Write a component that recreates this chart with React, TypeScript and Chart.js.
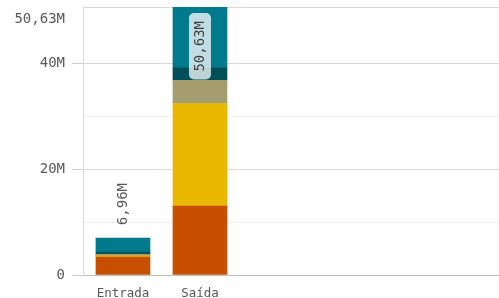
import React, { useEffect, useRef } from "react";
import { Chart, registerables } from "chart.js";

Chart.register(...registerables);

const categories = ["Entrada", "Saída"];
const seriesOrange = [3.4e6, 13.0e6];
const seriesYellow = [0.2e6, 19.4e6];
const seriesKhaki = [0.3e6, 4.4e6];
const seriesDarkTeal = [0.45e6, 2.4e6];
const seriesTeal = [2.61e6, 11.43e6];
const totals = [6.96e6, 50.63e6];
const totalLabels = ["6,96M", "50,63M"];
const yTickValues = [0, 10e6, 20e6, 30e6, 40e6, 50.63e6];
const yTickLabels = ["0", "", "20M", "", "40M", "50,63M"];
const yMajor = [true, false, true, false, true, false];

const colors = ["#c84f00", "#e9b700", "#a59d6e", "#00505a", "#007a8c"];

const dataLabelPlugin = {
  id: "totalsLabels",
  afterDatasetsDraw(chart: any) {
    const ctx = chart.ctx;
    const xs = chart.scales.x;
    const ys = chart.scales.y;
    ctx.save();
    ctx.font = "14px 'DejaVu Sans Mono'";
    totals.forEach((t, i) => {
      const x = xs.getPixelForValue(i);
      const yTop = ys.getPixelForValue(t);
      const label = totalLabels[i];
      const w = ctx.measureText(label).width;
      const barHeight = ys.getPixelForValue(0) - yTop;
      ctx.save();
      ctx.translate(x, 0);
      ctx.rotate(-Math.PI / 2);
      ctx.textBaseline = "middle";
      if (barHeight > w + 30) {
        const boxLen = w + 16;
        const boxW = 22;
        const startY = yTop + 6;
        const bx = -(startY + boxLen);
        ctx.fillStyle = "rgba(255,255,255,0.75)";
        ctx.beginPath();
        (ctx as any).roundRect(bx, -boxW / 2, boxLen, boxW, 5);
        ctx.fill();
        ctx.fillStyle = "#404040";
        ctx.textAlign = "center";
        ctx.fillText(label, bx + boxLen / 2, 0);
      } else {
        ctx.fillStyle = "#595959";
        ctx.textAlign = "left";
        ctx.fillText(label, -(yTop - 13), 0);
      }
      ctx.restore();
    });
    ctx.restore();
  },
};

export default function App() {
  const ref = useRef<HTMLCanvasElement>(null);
  useEffect(() => {
    if (!ref.current) return;
    const series = [seriesOrange, seriesYellow, seriesKhaki, seriesDarkTeal, seriesTeal];
    const lastIdx = yTickValues.length - 1;
    const chart = new Chart(ref.current, {
      type: "bar",
      data: {
        datasets: series.map((s, k) => ({
          label: "s" + k,
          data: s.map((v, i) => ({ x: i, y: v })),
          backgroundColor: colors[k],
          borderWidth: 0,
          barThickness: 54,
          grouped: false,
        })),
      },
      options: {
        animation: false,
        responsive: true,
        maintainAspectRatio: false,
        layout: { padding: { top: 7, right: 0, left: 0, bottom: 0 } },
        plugins: { legend: { display: false }, tooltip: { enabled: false } },
        scales: {
          x: {
            type: "linear",
            offset: false,
            min: -0.519,
            max: 4.883,
            afterBuildTicks: (scale: any) => {
              scale.ticks = categories.map((_, i) => ({ value: i }));
            },
            afterFit: (scale: any) => {
              scale.height = 23;
              scale.paddingLeft = 0;
              scale.paddingRight = 0;
            },
            grid: { display: false, offset: false },
            border: { display: true, color: "#bfbfbf", width: 1 },
            ticks: {
              padding: 3,
              color: "#595959",
              font: { family: "'DejaVu Sans Mono'", size: 12.5 },
              maxRotation: 0,
              autoSkip: false,
              callback: (v: any) => categories[v as number] ?? "",
            },
          },
          y: {
            stacked: true,
            min: 0,
            max: 50.63e6,
            afterBuildTicks: (scale: any) => {
              scale.ticks = yTickValues.map((v) => ({ value: v }));
            },
            afterFit: (scale: any) => {
              scale.width = 83;
              scale.paddingTop = 0;
              scale.paddingBottom = 0;
            },
            grid: {
              color: (c: any) => {
                const i = c.index;
                if (i === 0) return "#bfbfbf";
                return yMajor[i] || i === lastIdx ? "#d9d9d9" : "#eeeeee";
              },
              tickColor: (c: any) => (yMajor[c.index] ? "#cccccc" : "rgba(0,0,0,0)"),
              tickLength: 11,
              drawTicks: true,
            },
            border: { display: true, color: "#d9d9d9" },
            ticks: {
              padding: 7,
              color: "#595959",
              autoSkip: false,
              font: { family: "'DejaVu Sans Mono'", size: 14, lineHeight: 0.86 },
              callback: (_v: any, i: number) =>
                i === lastIdx ? ["", "", yTickLabels[i]] : yTickLabels[i],
            },
          },
        },
      },
      plugins: [dataLabelPlugin],
    } as any);
    return () => chart.destroy();
  }, []);
  return (
    <div style={{ position: "absolute", left: 0, top: 0, width: 499, height: 298 }}>
      <canvas ref={ref} />
    </div>
  );
}
